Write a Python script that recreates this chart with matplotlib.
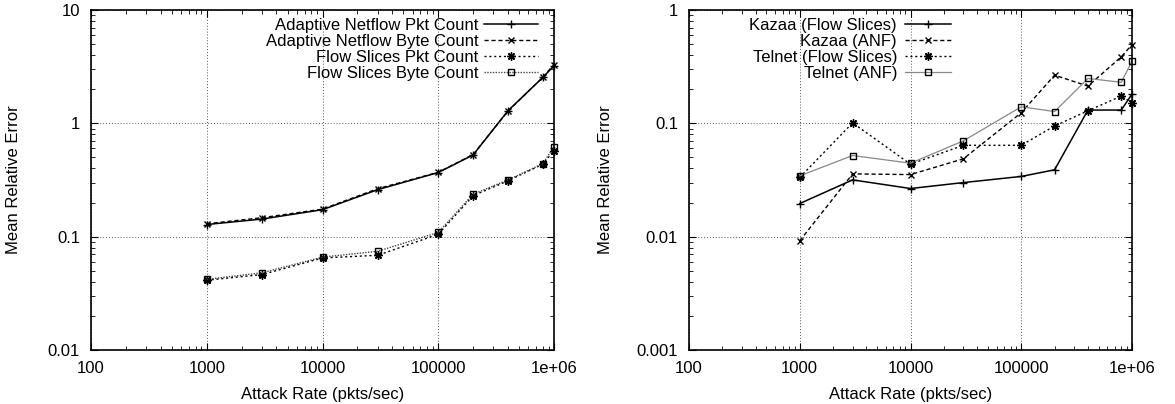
import matplotlib
matplotlib.use("Agg")
import matplotlib.pyplot as plt
from matplotlib.ticker import LogLocator, FixedLocator, FixedFormatter, NullFormatter

plt.rcParams['font.family'] = ['Liberation Sans', 'DejaVu Sans']

rates = [1000, 3000, 10000, 30000, 100000, 200000, 400000, 800000, 1000000]

# left panel
anf_pkt = [0.128, 0.143, 0.173, 0.26, 0.368, 0.526, 1.29, 2.54, 3.22]
anf_byte = [0.13, 0.147, 0.175, 0.265, 0.37, 0.53, 1.28, 2.55, 3.3]
fs_pkt = [0.0413, 0.0463, 0.0649, 0.0685, 0.105, 0.23, 0.311, 0.436, 0.575]
fs_byte = [0.042, 0.048, 0.066, 0.0743, 0.109, 0.237, 0.317, 0.44, 0.624]

# right panel
kazaa_fs = [0.0196, 0.0317, 0.0266, 0.030, 0.034, 0.0389, 0.131, 0.131, 0.181]
kazaa_anf = [0.0092, 0.0358, 0.0353, 0.0486, 0.124, 0.266, 0.213, 0.386, 0.495]
telnet_fs = [0.0333, 0.101, 0.0436, 0.064, 0.064, 0.0948, 0.129, 0.174, 0.152]
telnet_anf = [0.0344, 0.052, 0.0445, 0.07, 0.14, 0.127, 0.249, 0.23, 0.354]

xticks = [100, 1000, 10000, 100000, 1000000]
xticklabels = ['100', '1000', '10000', '100000', '1e+06']

fig = plt.figure(figsize=(11.75, 4.04), dpi=100)
W, H = 1175, 404
ax1 = fig.add_axes([91 / W, 54 / H, 463 / W, 340 / H])
ax2 = fig.add_axes([689 / W, 54 / H, 443 / W, 340 / H])

asterisk = (8, 2, 0)

ax1.plot(rates, anf_pkt, color='black', lw=1.1, marker='+', ms=6, clip_on=False, label='Adaptive Netflow Pkt Count')
ax1.plot(rates, anf_byte, color='black', lw=1.0, ls=(0, (3, 2)), marker='x', ms=5, clip_on=False, label='Adaptive Netflow Byte Count')
ax1.plot(rates, fs_pkt, color='black', lw=1.0, ls=(0, (1.5, 2)), marker=asterisk, ms=6, clip_on=False, label='Flow Slices Pkt Count')
ax1.plot(rates, fs_byte, color='#444444', lw=1.0, ls=(0, (1, 1)), marker='s', ms=5, mfc='none', mec='black', clip_on=False, label='Flow Slices Byte Count')

ax2.plot(rates, kazaa_fs, color='black', lw=1.1, marker='+', ms=6, clip_on=False, label='Kazaa (Flow Slices)')
ax2.plot(rates, kazaa_anf, color='black', lw=1.0, ls=(0, (3, 2)), marker='x', ms=5, clip_on=False, label='Kazaa (ANF)')
ax2.plot(rates, telnet_fs, color='black', lw=1.0, ls=(0, (1.5, 2)), marker=asterisk, ms=6, clip_on=False, label='Telnet (Flow Slices)')
ax2.plot(rates, telnet_anf, color='#888888', lw=0.9, marker='s', ms=5, mfc='none', mec='black', clip_on=False, label='Telnet (ANF)')

for ax, ylim, yt, ytl, ylx in [
    (ax1, (0.01, 10), [0.01, 0.1, 1, 10], ['0.01', '0.1', '1', '10'], -0.151),
    (ax2, (0.001, 1), [0.001, 0.01, 0.1, 1], ['0.001', '0.01', '0.1', '1'], -0.172),
]:
    ax.set_xscale('log')
    ax.set_yscale('log')
    ax.set_xlim(100, 1000000)
    ax.set_ylim(*ylim)
    ax.xaxis.set_major_locator(FixedLocator(xticks))
    ax.xaxis.set_major_formatter(FixedFormatter(xticklabels))
    ax.yaxis.set_major_locator(FixedLocator(yt))
    ax.yaxis.set_major_formatter(FixedFormatter(ytl))
    ax.xaxis.set_minor_locator(LogLocator(base=10, subs=range(2, 10)))
    ax.yaxis.set_minor_locator(LogLocator(base=10, subs=range(2, 10)))
    ax.xaxis.set_minor_formatter(NullFormatter())
    ax.yaxis.set_minor_formatter(NullFormatter())
    ax.tick_params(which='both', direction='in', top=True, right=True, labelsize=12)
    ax.tick_params(which='major', length=5, width=0.8)
    ax.tick_params(which='minor', length=3, width=0.6)
    ax.tick_params(axis='x', which='major', pad=8)
    ax.tick_params(axis='y', which='major', pad=8)
    ax.grid(True, which='major', ls=(0, (1, 2)), color='#555555', lw=0.7)
    for s in ax.spines.values():
        s.set_linewidth(1.2)
    ax.set_xlabel('Attack Rate (pkts/sec)', fontsize=12, labelpad=8)
    ax.set_ylabel('Mean Relative Error', fontsize=12)
    ax.yaxis.set_label_coords(ylx, 0.5)

ax1.legend(loc='upper right', bbox_to_anchor=(0.99, 1.01), frameon=False, markerfirst=False,
           fontsize=12, handlelength=3.2, handletextpad=0.35, labelspacing=0.05, borderaxespad=0.3)
ax2.legend(loc='upper left', bbox_to_anchor=(0.11, 1.01), frameon=False, markerfirst=False,
           fontsize=12, handlelength=2.8, handletextpad=0.45, labelspacing=0.05, borderaxespad=0.3)

fig.savefig('out.png', dpi=100)
